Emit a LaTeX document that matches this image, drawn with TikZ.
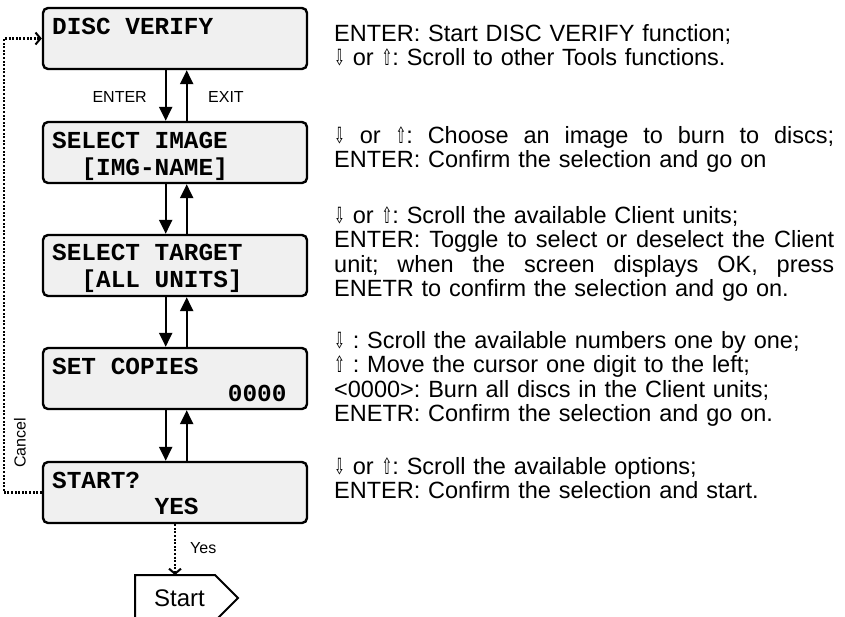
\documentclass[tikz,border=0pt]{standalone}
\usepackage{graphicx}
\usepackage{fontspec}
\setmainfont{Liberation Sans}
\newfontfamily\monof{Liberation Mono}
\newfontfamily\arrf{DejaVu Sans}
\usetikzlibrary{arrows.meta,calc}
\definecolor{lcdgray}{HTML}{F0F0F0}
\frenchspacing
\newcommand{\dn}{\scalebox{0.55}[0.95]{\arrf\char"21E9}}
\newcommand{\up}{\scalebox{0.55}[0.95]{\arrf\char"21E7}}
\newcommand{\jline}[1]{\hbox to 500pt{\frenchspacing\spaceskip=0.278em plus 1fil\relax\xspaceskip=\spaceskip #1}}
\begin{document}
\begin{tikzpicture}[x=1pt,y=-1pt,
  lcd/.style={draw, line width=2.4pt, rounded corners=5pt, fill=lcdgray,
    minimum width=264pt, minimum height=61pt, inner sep=0pt},
  lcdtxt/.style={font=\monof\bfseries\fontsize{24.4}{27}\selectfont, anchor=base west, inner sep=0pt},
  flow/.style={line width=2.2pt, -{Triangle[width=13pt,length=14pt]}},
  dots/.style={line width=2.2pt, dash pattern=on 2pt off 1.6pt, -{Straight Barb[length=5pt,width=12pt,line width=2pt]}},
  lab/.style={font=\fontsize{16}{19}\selectfont, inner sep=0pt},
  desc/.style={font=\fontsize{23.5}{24.5}\selectfont\frenchspacing, anchor=north west, inner sep=0pt, text width=500pt, align=left}
]
\useasboundingbox (0,0) rectangle (845,616);

% LCD boxes
\node[lcd] (b1) at (175,38.5) {};
\node[lcd] (b2) at (175,152.5) {};
\node[lcd] (b3) at (175,265.5) {};
\node[lcd] (b4) at (175,378.5) {};
\node[lcd] (b5) at (175,492.5) {};

% LCD texts
\node[lcdtxt] (t1a) at (52,34) {DISC VERIFY};
\node[lcdtxt] (t2a) at (52,148) {SELECT IMAGE};
\node[lcdtxt] (t2b) at (81.3,175) {[IMG-NAME]};
\node[lcdtxt] (t3a) at (52,260) {SELECT TARGET};
\node[lcdtxt] (t3b) at (81.3,287) {[ALL UNITS]};
\node[lcdtxt] (t4a) at (52,374) {SET COPIES};
\node[lcdtxt] (t4b) at (227.7,401) {0000};
\node[lcdtxt] (t5a) at (52,488) {START?};
\node[lcdtxt] (t5b) at (154.5,514) {YES};

% flow arrows
\foreach \a/\b in {b1/b2,b2/b3,b3/b4,b4/b5}{
  \draw[flow] ($(\a.south)+(-9.3,0)$) -- ($(\b.north)+(-9.3,0)$);
  \draw[flow] ($(\b.north)+(11.7,0)$) -- ($(\a.south)+(11.7,0)$);
}
\node[lab, anchor=east] (lenter) at (147,97) {ENTER};
\node[lab, anchor=west] (lexit) at (208,97) {EXIT};

% cancel loop
\draw[dots] (b5.west) -- ++(-38,0) coordinate (cl) |- (b1.west);
\node[lab, rotate=90] (lcancel) at (20,443) {Cancel};

% start
\node[font=\fontsize{24}{28}\selectfont, inner sep=0pt] (start) at (179.5,598) {Start};
\draw[line width=2pt, line join=miter] (135,623) -- (135,575) -- (215,575) -- (238,598) -- (215,621);
\coordinate (sttop) at (175,575);
\draw[dots] (b5.south) -- (sttop);
\node[lab, anchor=west] (lyes) at (190,548) {Yes};

% descriptions
\node[desc] (d1) at (334,23.8) {\strut ENTER: Start DISC VERIFY function;\\
\strut\dn{} or \up: Scroll to other Tools functions.};
\node[desc] (d2) at (334,125.8) {\strut\jline{\dn{} or \up: Choose an image to burn to discs;}\\
\strut ENTER: Confirm the selection and go on};
\node[desc] (d3) at (334,205.8) {\strut\dn{} or \up: Scroll the available Client units;\\
\strut\jline{ENTER: Toggle to select or deselect the Client}\\
\strut\jline{unit; when the screen displays OK, press}\\
\strut ENETR to confirm the selection and go on.};
\node[desc] (d4) at (334,330.8) {\strut\dn{} : Scroll the available numbers one by one;\\
\strut\up{} : Move the cursor one digit to the left;\\
\strut <0000>: Burn all discs in the Client units;\\
\strut ENETR: Confirm the selection and go on.};
\node[desc] (d5) at (334,456.8) {\strut\dn{} or \up: Scroll the available options;\\
\strut ENTER: Confirm the selection and start.};
\end{tikzpicture}
\end{document}
